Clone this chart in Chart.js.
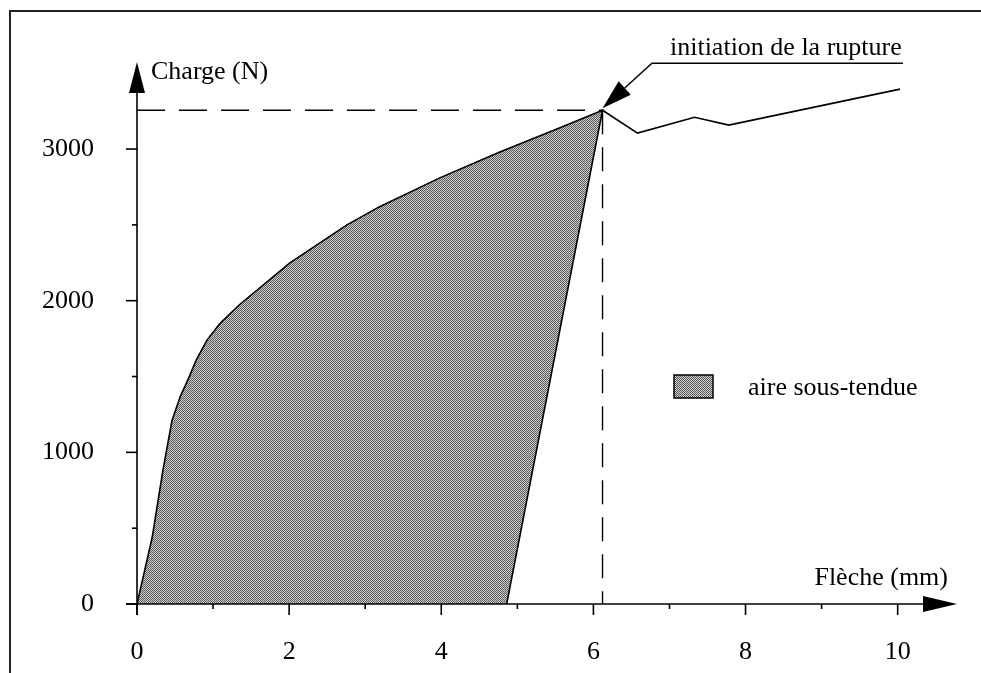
<!DOCTYPE html>
<html lang="fr">
<head>
  <meta charset="UTF-8" />
  <title>Charge - Flèche</title>
  <script src="https://cdn.jsdelivr.net/npm/chart.js"></script>
  <style>
    html, body { margin: 0; padding: 0; background: #fff; }
    #wrap { width: 981px; height: 673px; }
  </style>
</head>
<body>
  <div id="wrap"><canvas id="courbe" width="981" height="673"></canvas></div>

  <script>
    // courbe de chargement (aire sous-tendue)
    const flecheCharge = [0, 0.2, 0.34, 0.46, 0.57, 0.67, 0.78, 0.92, 1.09, 1.35, 2.01, 2.76, 3.19, 3.98, 4.77, 5.56, 6.12, 4.86];
    const chargeCharge = [0, 440, 880, 1210, 1370, 1480, 1610, 1740, 1850, 1975, 2250, 2500, 2620, 2810, 2980, 3140, 3256, 0];
    // après l'initiation de la rupture
    const flecheApres = [6.12, 6.58, 7.33, 7.78, 10.03];
    const chargeApres = [3256, 3105, 3210, 3158, 3395];
    // point d'initiation de la rupture
    const pic = { x: 6.12, y: 3256 };
    const ticksX = [0, 2, 4, 6, 8, 10];
    const ticksXmin = [1, 3, 5, 7, 9];
    const ticksY = [0, 1000, 2000, 3000];
    const ticksYmin = [500, 1500, 2500];
    const xMax = 10.78, yMax = 3574;

    const police = '26px "Liberation Serif", "DejaVu Serif", serif';

    function hachure() {
      const c = document.createElement('canvas');
      c.width = 2; c.height = 2;
      const g = c.getContext('2d');
      g.fillStyle = '#cfcfcf'; g.fillRect(0, 0, 2, 2);
      g.fillStyle = '#585858'; g.fillRect(0, 0, 1, 1); g.fillRect(1, 1, 1, 1);
      return g.createPattern(c, 'repeat');
    }
    const motif = hachure();

    const pts = (xs, ys) => xs.map((x, i) => ({ x: x, y: ys[i] }));

    // axes, flèches, légende et textes
    const decor = {
      id: 'decor',
      beforeDraw(chart) {
        const ctx = chart.ctx;
        ctx.save();
        ctx.strokeStyle = '#222';
        ctx.lineWidth = 2;
        ctx.beginPath();
        ctx.moveTo(10, 673); ctx.lineTo(10, 11); ctx.lineTo(981, 11);
        ctx.stroke();
        ctx.restore();
      },
      afterDatasetsDraw(chart) {
        const ctx = chart.ctx;
        const xs = chart.scales.x, ys = chart.scales.y;
        const a = chart.chartArea;
        const x0 = xs.getPixelForValue(0), y0 = ys.getPixelForValue(0);
        ctx.save();
        ctx.strokeStyle = '#000';
        ctx.fillStyle = '#000';
        ctx.lineWidth = 1.6;

        // axe Y
        ctx.beginPath();
        ctx.moveTo(x0, y0 + 11); ctx.lineTo(x0, a.top + 30);
        ctx.stroke();
        ctx.beginPath();
        ctx.moveTo(x0, a.top); ctx.lineTo(x0 - 8, a.top + 31); ctx.lineTo(x0 + 8, a.top + 31);
        ctx.closePath(); ctx.fill();
        ticksY.forEach(v => {
          const p = ys.getPixelForValue(v);
          ctx.beginPath(); ctx.moveTo(x0 - 11, p); ctx.lineTo(x0, p); ctx.stroke();
        });
        ticksYmin.forEach(v => {
          const p = ys.getPixelForValue(v);
          ctx.beginPath(); ctx.moveTo(x0 - 5, p); ctx.lineTo(x0, p); ctx.stroke();
        });

        // axe X
        ctx.beginPath();
        ctx.moveTo(x0 - 11, y0); ctx.lineTo(a.right - 32, y0);
        ctx.stroke();
        ctx.beginPath();
        ctx.moveTo(a.right, y0); ctx.lineTo(a.right - 34, y0 - 8); ctx.lineTo(a.right - 34, y0 + 8);
        ctx.closePath(); ctx.fill();
        ticksX.forEach(v => {
          const p = xs.getPixelForValue(v);
          ctx.beginPath(); ctx.moveTo(p, y0); ctx.lineTo(p, y0 + 11); ctx.stroke();
        });
        ticksXmin.forEach(v => {
          const p = xs.getPixelForValue(v);
          ctx.beginPath(); ctx.moveTo(p, y0); ctx.lineTo(p, y0 + 5); ctx.stroke();
        });

        // titres des axes
        ctx.font = police;
        ctx.textBaseline = 'alphabetic';
        ctx.textAlign = 'left';
        ctx.fillText('Charge (N)', x0 + 14, a.top + 17);
        ctx.textAlign = 'right';
        ctx.fillText('Flèche (mm)', a.right - 9, y0 - 19);

        // annotation : initiation de la rupture
        const px = xs.getPixelForValue(pic.x), py = ys.getPixelForValue(pic.y) - 2;
        const coudeX = xs.getPixelForValue(6.77), coudeY = ys.getPixelForValue(3566);
        const finX = xs.getPixelForValue(10.07);
        ctx.lineWidth = 1.5;
        ctx.beginPath();
        ctx.moveTo(finX, coudeY); ctx.lineTo(coudeX, coudeY);
        const ang = Math.atan2(py - coudeY, px - coudeX);
        const bx = px - 30 * Math.cos(ang), by = py - 30 * Math.sin(ang);
        ctx.lineTo(bx, by);
        ctx.stroke();
        ctx.beginPath();
        ctx.moveTo(px, py);
        ctx.lineTo(bx + 9 * Math.sin(ang), by - 9 * Math.cos(ang));
        ctx.lineTo(bx - 9 * Math.sin(ang), by + 9 * Math.cos(ang));
        ctx.closePath(); ctx.fill();
        ctx.textAlign = 'left';
        ctx.fillText('initiation de la rupture', coudeX + 18, coudeY - 8);

        // légende
        ctx.fillStyle = motif;
        ctx.fillRect(674, 375, 39, 23);
        ctx.lineWidth = 1.5;
        ctx.strokeRect(674, 375, 39, 23);
        ctx.fillStyle = '#000';
        ctx.fillText('aire sous-tendue', 748, 395);
        ctx.restore();
      }
    };

    const policeTicks = { family: '"Liberation Serif", serif', size: 26 };

    new Chart(document.getElementById('courbe'), {
      type: 'scatter',
      data: {
        datasets: [
          {
            label: 'aire sous-tendue',
            data: pts(flecheCharge, chargeCharge),
            showLine: true,
            fill: 'shape',
            backgroundColor: motif,
            borderColor: '#000',
            borderWidth: 1.6,
            pointRadius: 0,
            tension: 0
          },
          {
            label: 'rupture',
            data: pts(flecheApres, chargeApres),
            showLine: true,
            borderColor: '#000',
            borderWidth: 1.6,
            pointRadius: 0,
            tension: 0
          },
          {
            label: 'repère charge',
            data: [{ x: 0, y: pic.y }, { x: pic.x, y: pic.y }],
            showLine: true,
            borderColor: '#000',
            borderWidth: 1.4,
            borderDash: [28, 14],
            pointRadius: 0
          },
          {
            label: 'repère flèche',
            data: [{ x: pic.x, y: pic.y }, { x: pic.x, y: 0 }],
            showLine: true,
            borderColor: '#000',
            borderWidth: 1.4,
            borderDash: [24, 13],
            pointRadius: 0
          }
        ]
      },
      options: {
        responsive: false,
        animation: false,
        layout: { padding: { left: 0, top: 62, right: 24, bottom: 0 } },
        plugins: { legend: { display: false }, tooltip: { enabled: false } },
        scales: {
          x: {
            type: 'linear',
            min: 0,
            max: xMax,
            grid: { display: false },
            border: { display: false },
            ticks: { color: '#000', font: policeTicks, padding: 25, maxRotation: 0, callback: v => String(v) },
            afterBuildTicks: s => { s.ticks = ticksX.map(v => ({ value: v })); },
            afterFit: s => { s.height = 69; }
          },
          y: {
            type: 'linear',
            min: 0,
            max: yMax,
            grid: { display: false },
            border: { display: false },
            ticks: { color: '#000', font: policeTicks, padding: 35, callback: v => String(v) },
            afterBuildTicks: s => { s.ticks = ticksY.map(v => ({ value: v })); },
            afterFit: s => { s.width = 137; }
          }
        }
      },
      plugins: [decor]
    });
  </script>
</body>
</html>
